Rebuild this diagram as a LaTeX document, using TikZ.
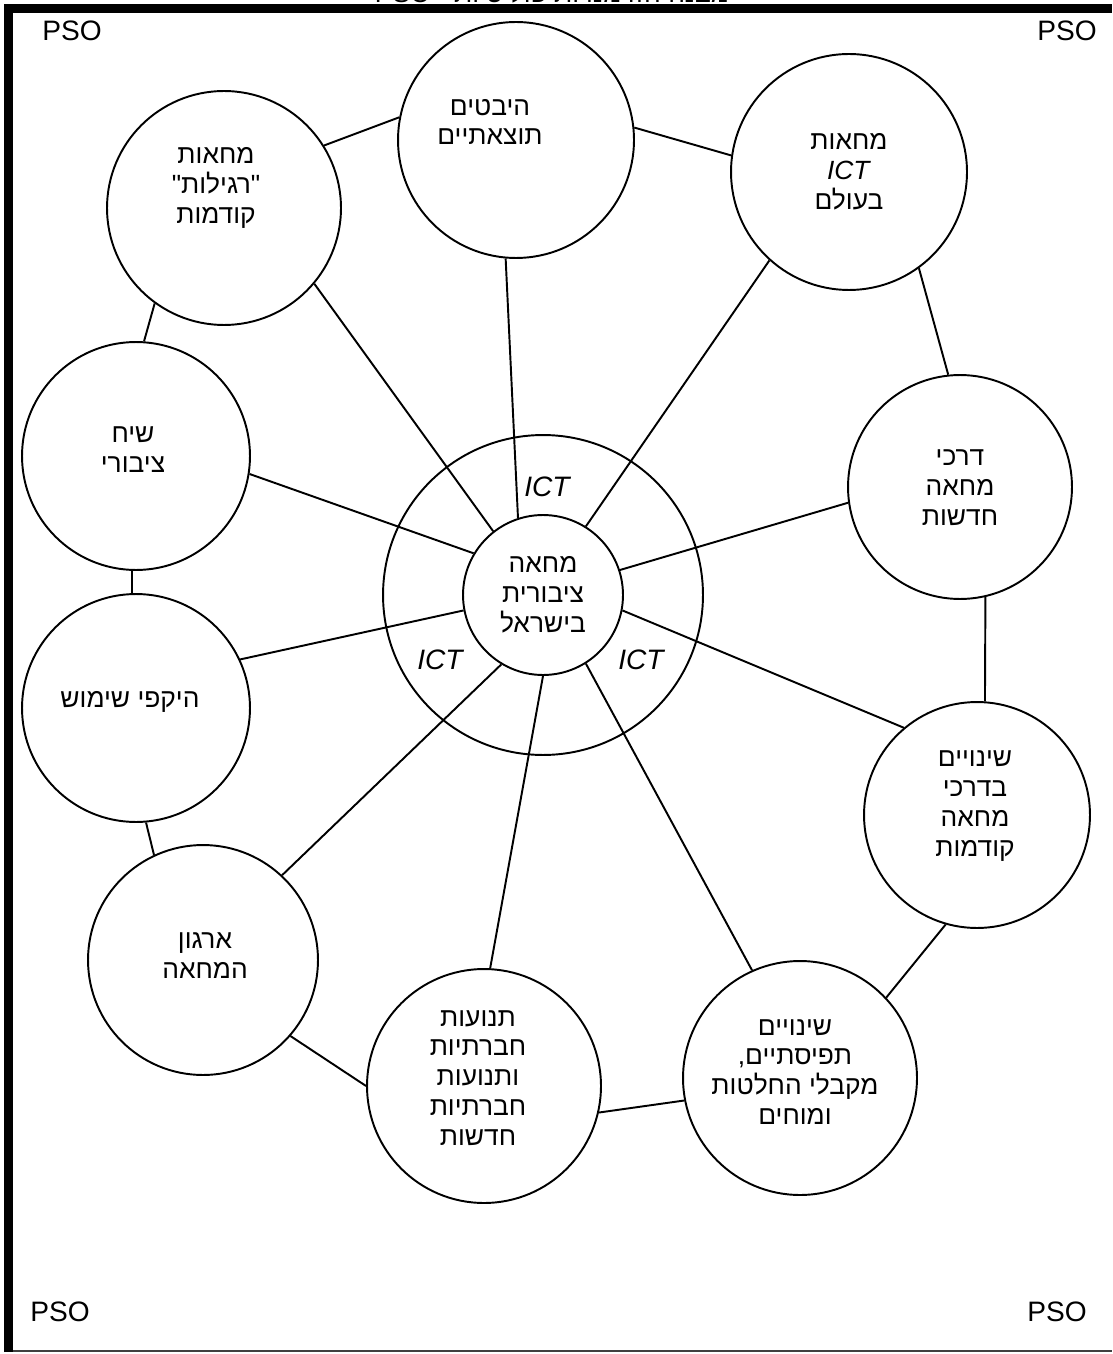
\documentclass[tikz,border=0pt]{standalone}
\usepackage{fontspec}
\setmainfont{Liberation Sans}
\newfontfamily\hebfont[Script=Hebrew]{Liberation Sans}
\TeXXeTstate=1
\usetikzlibrary{positioning}
\newcommand{\heb}[1]{{\hebfont\beginR #1\endR}}
\tikzset{
  topic/.style={draw, circle, line width=1.1pt, inner sep=0pt},
  topictext/.style={align=center, font=\fontsize{15}{17}\selectfont},
  link/.style={line width=1.1pt},
  corner/.style={font=\fontsize{16}{18}\selectfont},
  ictlabel/.style={font=\fontsize{16}{18}\selectfont\itshape}
}

\begin{document}
\begin{tikzpicture}[x=0.02cm,y=-0.02cm]
  \useasboundingbox (0,0) rectangle (1112,1354);
  % title, mostly cut off by the page edge
  \node[anchor=base, font=\fontsize{15}{17}\selectfont] (title) at (552,3)
    {\heb{מבנה הזדמנויות פוליטיות - \beginL PSO\endL}};
  % frame
  \draw[line width=0.6pt, black!75] (4,1351) -- (1112,1351);
  \draw[line width=0.18cm] (8.5,1352) -- (8.5,8.5) -- (1112,8.5);
  % corners
  \node[corner] (psoTL) at (72,31) {PSO};
  \node[corner] (psoTR) at (1067,31) {PSO};
  \node[corner] (psoBL) at (60,1312) {PSO};
  \node[corner] (psoBR) at (1057,1312) {PSO};

  % middle
  \node[topic, minimum size=6.4cm] (ring) at (543,595) {};
  \node[topic, minimum size=3.2cm, align=center, font=\fontsize{15}{17}\selectfont] (core) at (543,595)
    {\heb{מחאה}\\\heb{ציבורית}\\\heb{בישראל}};
  \node[ictlabel] (ictA) at (547,487) {ICT};
  \node[ictlabel] (ictB) at (440,660) {ICT};
  \node[ictlabel] (ictC) at (641,660) {ICT};

  % outer ring of topics
  \node[topic, minimum size=4.72cm] (results) at (516,140) {};
  \node[topic, minimum size=4.72cm] (world) at (849,172) {};
  \node[topic, minimum size=4.68cm] (earlier) at (224,208) {};
  \node[topic, minimum size=4.56cm] (talk) at (136,456) {};
  \node[topic, minimum size=4.56cm] (usage) at (136,708) {};
  \node[topic, minimum size=4.6cm] (organise) at (203,960) {};
  \node[topic, minimum size=4.68cm] (movements) at (484,1086) {};
  \node[topic, minimum size=4.68cm] (views) at (800,1078) {};
  \node[topic, minimum size=4.52cm] (changes) at (977,815) {};
  \node[topic, minimum size=4.48cm] (newways) at (960,487) {};

  \node[topictext] (resultsText) at (490,122) {\heb{היבטים}\\\heb{תוצאתיים}};
  \node[topictext] (worldText) at (849,172) {\heb{מחאות}\\\textit{ICT}\\\heb{בעולם}};
  \node[topictext] (earlierText) at (216,188) {\heb{מחאות}\\\heb{"רגילות"}\\\heb{קודמות}};
  \node[topictext] (talkText) at (133,450) {\heb{שיח}\\\heb{ציבורי}};
  \node[topictext] (usageText) at (130,702) {\heb{היקפי שימוש}};
  \node[topictext] (organiseText) at (205,956) {\heb{ארגון}\\\heb{המחאה}};
  \node[topictext] (movementsText) at (478,1078)
    {\heb{תנועות}\\\heb{חברתיות}\\\heb{ותנועות}\\\heb{חברתיות}\\\heb{חדשות}};
  \node[topictext] (viewsText) at (795,1072)
    {\heb{שינויים}\\\heb{תפיסתיים,}\\\heb{מקבלי החלטות}\\\heb{ומוחים}};
  \node[topictext] (changesText) at (975,806)
    {\heb{שינויים}\\\heb{בדרכי}\\\heb{מחאה}\\\heb{קודמות}};
  \node[topictext] (newwaysText) at (960,488) {\heb{דרכי}\\\heb{מחאה}\\\heb{חדשות}};

  % spokes
  \foreach \a/\n/\b in {108/results/265, 58/world/228, 128/earlier/320, 149/talk/351,
                        191/usage/25, 239/organise/47, 270/movements/87, 302/views/114,
                        349/changes/130, 18/newways/188}
    \draw[link] (core.\a) -- (\n.\b);
  % rim
  \draw[link] (earlier.32) -- (results.169);
  \draw[link] (results.6) -- (world.172);
  \draw[link] (world.306) -- (newways.96);
  \draw[link] (newways.283) -- (changes.86);
  \draw[link] (changes.254) -- (views.43);
  \draw[link] (views.191) -- (movements.347);
  \draw[link] (movements.180) -- (organise.319);
  \draw[link] (organise.115) -- (usage.275);
  \draw[link] (usage.92) -- (talk.268);
  \draw[link] (talk.86) -- (earlier.234);
\end{tikzpicture}
\end{document}
